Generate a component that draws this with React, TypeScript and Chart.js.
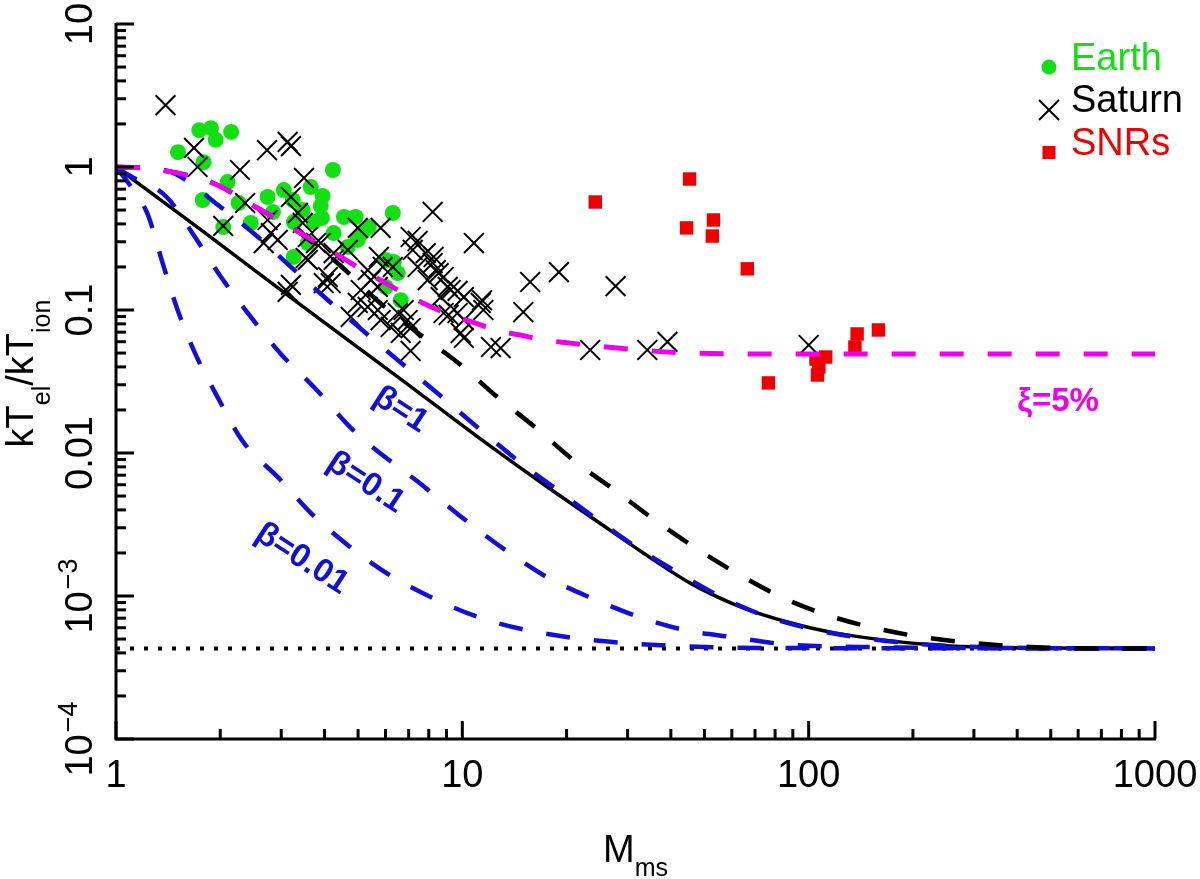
import { useEffect, useRef } from "react";
import { Chart, registerables } from "chart.js";

Chart.register(...registerables);

const FONT = '"Liberation Sans", Arial, Helvetica, sans-serif';
const GREEN = "#12e012";
const RED = "#ee0000";
const MAGENTA = "#ee00ee";
const BLUE = "#1010d6";

// model curves: Mach number vs kT_el / kT_ion
const SOLID_M = [1, 1.76, 3.42, 6.64, 11.3, 17.6, 24.2, 33.3, 45.5, 63.5, 88.5, 120, 229, 436, 1000];
const SOLID_T = [1, 0.363, 0.108, 0.0329, 0.0125, 0.00578, 0.0034, 0.002, 0.00123, 8.4e-4, 6.5e-4, 5.5e-4, 4.54e-4, 4.33e-4, 4.3e-4];

const BLACK_DASH_M = [1, 1.196, 1.394, 1.645, 1.905, 2.22, 2.53, 2.95, 3.37, 3.9, 4.46, 5.89, 7.58, 9.82, 12.6, 16.3, 20.9, 27.5, 35.9, 47.1, 61.8, 83.3, 113, 155, 213, 298, 436, 693, 1000];
const BLACK_DASH_T = [1, 0.984, 0.938, 0.865, 0.773, 0.637, 0.525, 0.426, 0.351, 0.267, 0.203, 0.108, 0.0668, 0.0419, 0.0247, 0.015, 0.00893, 0.00551, 0.0034, 0.00217, 0.00145, 9.84e-4, 7.36e-4, 5.97e-4, 5.16e-4, 4.69e-4, 4.4e-4, 4.3e-4, 4.3e-4];

const XI_M = [1, 1.196, 1.394, 1.645, 1.905, 2.22, 2.53, 2.95, 3.37, 3.9, 4.46, 5.15, 5.93, 6.77, 7.94, 9.25, 10.7, 12.5, 14.7, 17.2, 20.3, 28.1, 45.5, 88.5, 1000];
const XI_T = [1, 0.984, 0.938, 0.865, 0.773, 0.637, 0.525, 0.426, 0.351, 0.285, 0.235, 0.19, 0.157, 0.131, 0.108, 0.0923, 0.0824, 0.0724, 0.0668, 0.0617, 0.0588, 0.0542, 0.05, 0.0492, 0.0492];

const BETA1_M = [1, 1.26, 1.44, 1.62, 1.97, 2.53, 3.22, 4.11, 5.26, 6.77, 8.65, 11.1, 14.4, 18.8, 24.6, 32, 42.1, 56.7, 76.4, 105, 144, 229, 436, 1000];
const BETA1_T = [1, 0.984, 0.923, 0.786, 0.542, 0.335, 0.197, 0.116, 0.069, 0.0412, 0.0251, 0.015, 0.00893, 0.00551, 0.0034, 0.00217, 0.00145, 9.68e-4, 7.13e-4, 5.78e-4, 5.08e-4, 4.54e-4, 4.33e-4, 4.3e-4];

const BETA01_M = [1, 1.1, 1.4, 1.69, 2.01, 2.45, 3.01, 3.75, 4.83, 7.78, 10.2, 13.3, 17.7, 23.6, 31.8, 43.8, 60.2, 84.5, 141, 1000];
const BETA01_T = [1, 0.865, 0.617, 0.324, 0.17, 0.0894, 0.0485, 0.0285, 0.0145, 0.00578, 0.0034, 0.0021, 0.00134, 9.68e-4, 7.24e-4, 5.78e-4, 5.16e-4, 4.61e-4, 4.4e-4, 4.3e-4];

const BETA001_M = [1, 1.07, 1.23, 1.36, 1.5, 1.7, 1.97, 2.32, 2.95, 3.68, 4.7, 6.17, 8.21, 11.3, 15.3, 21.1, 29.2, 41, 72.5, 1000];
const BETA001_T = [1, 0.811, 0.477, 0.217, 0.103, 0.0485, 0.0243, 0.0121, 0.00668, 0.00374, 0.00224, 0.0014, 9.68e-4, 7.02e-4, 5.78e-4, 5.08e-4, 4.69e-4, 4.47e-4, 4.33e-4, 4.3e-4];

const FLOOR_M = [1, 1000];
const FLOOR_T = [4.3e-4, 4.3e-4];

// observations
const EARTH_M = [1.51, 1.74, 1.88, 1.94, 2.15, 1.79, 2.1, 1.78, 2.26, 2.04, 2.45, 2.74, 3.05, 3.24, 3.46, 3.65, 3.95, 4.23, 3.9, 3.26, 3.26, 3.72, 3.58, 4.25, 4.55, 4.92, 4.67, 4.99, 5.37, 6.3, 6.01, 6.34, 6.51, 6.01, 6.64, 2.84, 3.93, 5.16];
const EARTH_T = [1.27, 1.81, 1.87, 1.55, 1.76, 1.08, 0.785, 0.588, 0.56, 0.38, 0.406, 0.617, 0.69, 0.588, 0.5, 0.725, 0.627, 0.953, 0.533, 0.412, 0.235, 0.412, 0.294, 0.345, 0.447, 0.447, 0.276, 0.309, 0.38, 0.477, 0.224, 0.217, 0.181, 0.145, 0.117, 0.484, 0.44, 0.351];

const SATURN_M = [1.39, 1.68, 1.72, 2.28, 2.73, 3.13, 3.2, 3.49, 2.04, 2.36, 2.74, 2.8, 2.67, 2.93, 3.2, 3.35, 3.46, 3.58, 3.53, 3.78, 3.13, 3.2, 4.99, 5.81, 8.21, 10.8, 7.09, 7.43, 7.19, 7.84, 8.21, 7.43, 8.54, 7.94, 9.07, 9.69, 10.1, 8.66, 11.3, 11.5, 10.1, 9.69, 9.13, 9.89, 10.1, 12.1, 12.9, 7.09, 5.74, 5.89, 6.3, 5.33, 5.44, 5.09, 5.7, 4.99, 5.33, 5.7, 5.81, 6.51, 6.95, 6.77, 4.76, 4.25, 4.09, 3.98, 4.17, 3.9, 4.67, 4.25, 3.58, 6.64, 6.21, 15.7, 19, 27.7, 15, 23.4, 34.2, 39.1, 100, 9.25, 8.83, 8.38, 8.26, 11.4, 8.83, 7.09];
const SATURN_T = [2.71, 1.36, 1, 0.953, 1.31, 1.5, 1.4, 0.838, 0.387, 0.56, 0.426, 0.345, 0.294, 0.309, 0.617, 0.477, 0.406, 0.324, 0.231, 0.294, 0.134, 0.15, 0.375, 0.375, 0.485, 0.294, 0.324, 0.304, 0.263, 0.25, 0.213, 0.2, 0.181, 0.162, 0.145, 0.136, 0.123, 0.123, 0.112, 0.1, 0.0851, 0.0953, 0.0923, 0.0691, 0.0637, 0.0551, 0.0542, 0.0517, 0.235, 0.2, 0.2, 0.19, 0.162, 0.138, 0.145, 0.112, 0.105, 0.1, 0.0851, 0.0953, 0.0851, 0.1, 0.0894, 0.224, 0.17, 0.154, 0.154, 0.294, 0.263, 0.25, 0.224, 0.0691, 0.0761, 0.157, 0.184, 0.147, 0.0968, 0.0525, 0.0525, 0.0598, 0.0569, 0.138, 0.17, 0.19, 0.235, 0.117, 0.0953, 0.0748];

const SNR_M = [24.2, 45.3, 44.4, 53.1, 52.7, 66.5, 76.5, 106, 107, 105, 112, 136, 138, 159];
const SNR_T = [0.569, 0.824, 0.375, 0.426, 0.329, 0.194, 0.0309, 0.0351, 0.0399, 0.0454, 0.0469, 0.0551, 0.068, 0.0725];

// axes
const X_DECADES = [1, 10, 100, 1000];
const X_TICK_TEXT = ["1", "10", "100", "1000"];
const Y_DECADES = [1e-4, 1e-3, 0.01, 0.1, 1, 10];
const Y_TICK_TEXT = ["10", "10", "0.01", "0.1", "1", "10"];
const Y_TICK_SUP = ["\u22124", "\u22123", "", "", "", ""];

// curve labels (anchored in data coordinates)
const BETA_LABELS = ["\u03b2=1", "\u03b2=0.1", "\u03b2=0.01"];
const BETA_LABEL_M = [6.64, 5.26, 3.44];
const BETA_LABEL_T = [0.02, 0.0062, 0.00182];
const XI_LABEL = "\u03be=5%";
const XI_LABEL_M = 525;
const XI_LABEL_T = 0.0227;

const LEGEND = ["Earth", "Saturn", "SNRs"];
const LEGEND_COLORS = [GREEN, "#000000", RED];

const pts = (xs: number[], ys: number[]) => xs.map((x, i) => ({ x, y: ys[i] }));

function drawRich(ctx: CanvasRenderingContext2D, parts: [string, boolean][], x: number, y: number, big: number, small: number, drop: number) {
  // measure then draw text centred at x, with subscripts dropped by `drop`
  let total = 0;
  parts.forEach(([t, sub]) => {
    ctx.font = `${sub ? small : big}px ${FONT}`;
    total += ctx.measureText(t).width;
  });
  let cx = x - total / 2;
  parts.forEach(([t, sub]) => {
    ctx.font = `${sub ? small : big}px ${FONT}`;
    ctx.fillText(t, cx, y + (sub ? drop : 0));
    cx += ctx.measureText(t).width;
  });
}

const decor = {
  id: "decor",
  afterDraw(chart: Chart) {
    const { ctx, chartArea: a } = chart;
    const xs = chart.scales.x;
    const ys = chart.scales.y;
    ctx.save();

    // axis lines
    ctx.strokeStyle = "#000";
    ctx.lineWidth = 3;
    ctx.beginPath();
    ctx.moveTo(a.left, a.top - 1);
    ctx.lineTo(a.left, a.bottom);
    ctx.lineTo(a.right + 1, a.bottom);
    ctx.stroke();

    // inward tick marks
    const seg = (x1: number, y1: number, x2: number, y2: number) => {
      ctx.beginPath();
      ctx.moveTo(x1, y1);
      ctx.lineTo(x2, y2);
      ctx.stroke();
    };
    ctx.lineWidth = 3;
    Y_DECADES.forEach((d, i) => {
      const p = ys.getPixelForValue(d);
      seg(a.left, p, a.left + 18, p);
      if (i < Y_DECADES.length - 1) {
        for (let m = 2; m <= 9; m++) {
          const q = ys.getPixelForValue(d * m);
          seg(a.left, q, a.left + 10, q);
        }
      }
    });
    X_DECADES.forEach((d, i) => {
      const p = xs.getPixelForValue(d);
      seg(p, a.bottom, p, a.bottom - 18);
      if (i < X_DECADES.length - 1) {
        for (let m = 2; m <= 9; m++) {
          const q = xs.getPixelForValue(d * m);
          seg(q, a.bottom, q, a.bottom - 10);
        }
      }
    });

    ctx.fillStyle = "#000";
    ctx.textBaseline = "alphabetic";
    ctx.textAlign = "left";

    // x tick labels
    X_DECADES.forEach((d, i) => {
      ctx.font = `38px ${FONT}`;
      const w = ctx.measureText(X_TICK_TEXT[i]).width;
      ctx.fillText(X_TICK_TEXT[i], xs.getPixelForValue(d) - w / 2, a.bottom + 48);
    });

    // y tick labels, rotated, with superscripts
    Y_DECADES.forEach((d, i) => {
      const p = ys.getPixelForValue(d);
      ctx.save();
      ctx.translate(a.left - 24, p);
      ctx.rotate(-Math.PI / 2);
      ctx.font = `38px ${FONT}`;
      const wb = ctx.measureText(Y_TICK_TEXT[i]).width;
      ctx.font = `27px ${FONT}`;
      const ws = Y_TICK_SUP[i] ? ctx.measureText(Y_TICK_SUP[i]).width + 2 : 0;
      const x0 = -(wb + ws) / 2;
      ctx.font = `38px ${FONT}`;
      ctx.fillText(Y_TICK_TEXT[i], x0, 0);
      if (ws) {
        ctx.font = `27px ${FONT}`;
        ctx.fillText(Y_TICK_SUP[i], x0 + wb + 2, -15);
      }
      ctx.restore();
    });

    // axis titles
    ctx.save();
    ctx.translate(33, (a.top + a.bottom) / 2 - 8);
    ctx.rotate(-Math.PI / 2);
    drawRich(ctx, [["kT", false], ["el", true], ["/kT", false], ["ion", true]], 0, 0, 38, 25, 17);
    ctx.restore();
    drawRich(ctx, [["M", false], ["ms", true]], (a.left + a.right) / 2, 862, 38, 25, 14);

    // curve labels
    ctx.font = `bold 33px ${FONT}`;
    ctx.fillStyle = BLUE;
    ctx.textAlign = "center";
    ctx.textBaseline = "middle";
    BETA_LABELS.forEach((t, i) => {
      ctx.save();
      ctx.translate(xs.getPixelForValue(BETA_LABEL_M[i]), ys.getPixelForValue(BETA_LABEL_T[i]));
      ctx.rotate((33 * Math.PI) / 180);
      ctx.fillText(t, 0, 0);
      ctx.restore();
    });
    ctx.fillStyle = MAGENTA;
    ctx.fillText(XI_LABEL, xs.getPixelForValue(XI_LABEL_M), ys.getPixelForValue(XI_LABEL_T));

    // legend
    const mx = a.right - 106;
    const rows = [a.top + 46, a.top + 88, a.top + 131];
    ctx.textAlign = "left";
    ctx.textBaseline = "alphabetic";
    ctx.font = `38px ${FONT}`;
    LEGEND.forEach((t, i) => {
      ctx.fillStyle = LEGEND_COLORS[i];
      ctx.fillText(t, mx + 22, rows[i]);
    });
    ctx.fillStyle = GREEN;
    ctx.beginPath();
    ctx.arc(mx, rows[0] - 3, 7.5, 0, Math.PI * 2);
    ctx.fill();
    ctx.strokeStyle = "#000";
    ctx.lineWidth = 2;
    seg(mx - 10, rows[1] - 12, mx + 10, rows[1] + 8);
    seg(mx - 10, rows[1] + 8, mx + 10, rows[1] - 12);
    ctx.fillStyle = RED;
    ctx.fillRect(mx - 6.5, rows[2] - 9, 13, 13);

    ctx.restore();
  },
};

export default function App() {
  const canvasRef = useRef<HTMLCanvasElement>(null);
  const chartRef = useRef<Chart | null>(null);

  useEffect(() => {
    if (!canvasRef.current) return;
    if (chartRef.current) chartRef.current.destroy();

    const curve = (data: { x: number; y: number }[], color: string, width: number, dash: number[]) => ({
      data,
      borderColor: color,
      borderWidth: width,
      borderDash: dash,
      pointRadius: 0,
      fill: false,
      cubicInterpolationMode: "monotone" as const,
      borderCapStyle: "butt" as const,
    });

    chartRef.current = new Chart(canvasRef.current, {
      type: "line",
      data: {
        datasets: [
          curve(pts(XI_M, XI_T), MAGENTA, 5, [24, 24]),
          curve(pts(BLACK_DASH_M, BLACK_DASH_T), "#000", 4.5, [24, 24]),
          curve(pts(BETA1_M, BETA1_T), BLUE, 4.5, [24, 24]),
          curve(pts(BETA01_M, BETA01_T), BLUE, 4.5, [24, 24]),
          curve(pts(BETA001_M, BETA001_T), BLUE, 4.5, [24, 24]),
          curve(pts(SOLID_M, SOLID_T), "#000", 3.5, []),
          curve(pts(FLOOR_M, FLOOR_T), "#000", 4, [4, 10]),
          {
            data: pts(SATURN_M, SATURN_T),
            showLine: false,
            pointStyle: "crossRot",
            pointRadius: 14,
            borderColor: "#000",
            borderWidth: 2,
            backgroundColor: "#000",
          },
          {
            data: pts(EARTH_M, EARTH_T),
            showLine: false,
            pointStyle: "circle",
            pointRadius: 8,
            borderWidth: 0,
            backgroundColor: GREEN,
            borderColor: GREEN,
          },
          {
            data: pts(SNR_M, SNR_T),
            showLine: false,
            pointStyle: "rect",
            pointRadius: 9.5,
            borderWidth: 0,
            backgroundColor: RED,
            borderColor: RED,
          },
        ],
      },
      options: {
        animation: false,
        responsive: true,
        maintainAspectRatio: false,
        layout: { padding: { left: 116, right: 45, top: 24, bottom: 140 } },
        plugins: { legend: { display: false }, tooltip: { enabled: false } },
        events: [],
        scales: {
          x: { type: "logarithmic", min: 1, max: 1000, display: false },
          y: { type: "logarithmic", min: 1e-4, max: 10, display: false },
        },
      },
      plugins: [decor],
    });

    return () => {
      chartRef.current?.destroy();
      chartRef.current = null;
    };
  }, []);

  return (
    <div style={{ position: "fixed", left: 0, top: 0, width: 1200, height: 879, background: "#fff" }}>
      <canvas ref={canvasRef} />
    </div>
  );
}
